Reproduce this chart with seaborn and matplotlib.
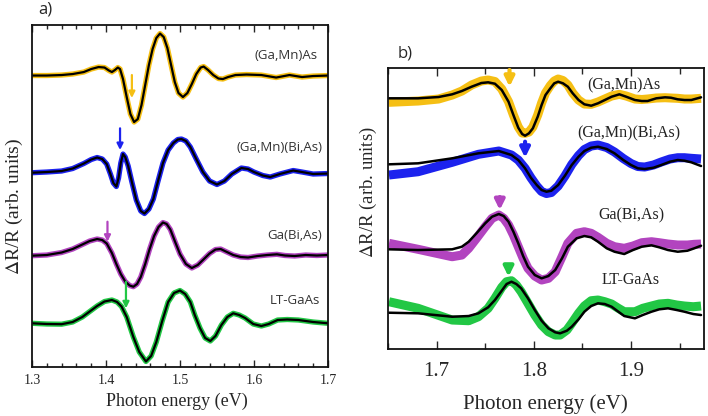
import matplotlib
matplotlib.use("Agg")
import matplotlib.pyplot as plt
import pandas as pd
import seaborn as sns
from matplotlib.ticker import MultipleLocator

# --- panel a) dados (energia em eV, sinal em unidades arbitrárias, já com offset) ---
a_gamnas_e = [1.300, 1.320, 1.340, 1.355, 1.370, 1.380, 1.390, 1.398, 1.404, 1.408, 1.412, 1.416,
              1.419, 1.423, 1.428, 1.433, 1.438, 1.443, 1.448, 1.453, 1.458, 1.463, 1.468, 1.473,
              1.478, 1.483, 1.488, 1.493, 1.498, 1.504, 1.510, 1.516, 1.522, 1.528, 1.532, 1.538,
              1.545, 1.552, 1.558, 1.565, 1.575, 1.590, 1.610, 1.630, 1.648, 1.665, 1.680, 1.700]
a_gamnas_y = [29.15, 29.15, 29.2, 29.3, 29.5, 29.8, 30.0, 29.95, 29.65, 29.5, 29.7, 29.95,
              29.8, 28.8, 27.0, 25.3, 24.5, 24.8, 26.2, 28.2, 30.2, 31.8, 32.9, 33.35,
              33.0, 31.9, 30.2, 28.5, 27.4, 27.0, 27.4, 28.3, 29.3, 29.95, 30.05, 29.7,
              29.2, 28.85, 28.8, 29.0, 29.2, 29.25, 29.2, 28.95, 29.2, 29.0, 29.1, 29.15]

a_gamnbias_e = [1.300, 1.320, 1.340, 1.355, 1.370, 1.380, 1.388, 1.395, 1.401, 1.406, 1.410, 1.414,
                1.417, 1.420, 1.423, 1.426, 1.430, 1.435, 1.441, 1.447, 1.452, 1.458, 1.464, 1.470,
                1.477, 1.484, 1.491, 1.497, 1.502, 1.508, 1.514, 1.522, 1.531, 1.540, 1.550, 1.560,
                1.570, 1.583, 1.592, 1.600, 1.612, 1.622, 1.635, 1.653, 1.665, 1.680, 1.700]
a_gamnbias_y = [19.43, 19.5, 19.6, 19.85, 20.35, 20.75, 20.95, 20.8, 20.3, 19.3, 18.4, 18.05,
                18.9, 20.4, 21.3, 21.0, 20.1, 18.5, 16.7, 15.6, 15.35, 15.8, 16.8, 18.5,
                20.4, 21.7, 22.4, 22.75, 22.8, 22.6, 22.0, 20.8, 19.5, 18.6, 18.25, 18.6,
                19.3, 19.9, 19.8, 19.5, 19.15, 19.0, 19.3, 19.65, 19.5, 19.3, 19.35]

a_gabias_e = [1.300, 1.320, 1.340, 1.355, 1.368, 1.378, 1.388, 1.395, 1.401, 1.408, 1.414, 1.420,
              1.426, 1.432, 1.437, 1.442, 1.447, 1.453, 1.459, 1.465, 1.471, 1.477, 1.482, 1.487,
              1.493, 1.500, 1.508, 1.516, 1.524, 1.531, 1.540, 1.548, 1.555, 1.562, 1.572, 1.582,
              1.592, 1.605, 1.618, 1.631, 1.642, 1.655, 1.670, 1.685, 1.700]
a_gabias_y = [11.13, 11.2, 11.45, 11.8, 12.25, 12.6, 12.8, 12.7, 12.35, 11.4, 10.3, 9.3,
              8.55, 8.15, 8.03, 8.3, 9.0, 10.3, 11.8, 13.1, 14.0, 14.45, 14.3, 13.75,
              12.6, 11.3, 10.3, 9.9, 10.2, 10.7, 11.35, 11.75, 11.8, 11.55, 11.2, 11.0,
              10.95, 11.1, 11.2, 11.27, 11.15, 11.1, 11.2, 11.15, 11.2]

a_ltgaas_e = [1.300, 1.320, 1.340, 1.355, 1.368, 1.378, 1.388, 1.398, 1.408, 1.415, 1.421, 1.428,
              1.437, 1.445, 1.454, 1.461, 1.468, 1.476, 1.484, 1.492, 1.500, 1.507, 1.514, 1.520,
              1.527, 1.534, 1.541, 1.548, 1.556, 1.564, 1.572, 1.580, 1.588, 1.599, 1.610, 1.620,
              1.632, 1.645, 1.660, 1.680, 1.700]
a_ltgaas_y = [4.37, 4.3, 4.28, 4.5, 5.0, 5.55, 6.1, 6.55, 6.7, 6.5, 6.05, 5.0,
              3.0, 1.5, 0.55, 1.1, 2.5, 4.6, 6.5, 7.4, 7.65, 7.3, 6.5, 5.2,
              3.9, 2.9, 2.6, 3.1, 4.2, 5.0, 5.37, 5.2, 4.9, 4.3, 4.1, 4.3,
              4.7, 4.75, 4.7, 4.5, 4.37]

# setas: energia, início, ponta
a_arrow_e = [1.435, 1.419, 1.402, 1.427]
a_arrow_tail = [29.2, 23.87, 14.53, 8.53]
a_arrow_tip = [26.9, 21.7, 12.53, 5.87]

# --- panel b) dados e ajuste ---
b_gamnas_e = [1.651, 1.681, 1.702, 1.716, 1.726, 1.736, 1.746, 1.753, 1.760, 1.767, 1.774, 1.779,
              1.784, 1.788, 1.791, 1.795, 1.799, 1.804, 1.808, 1.812, 1.817, 1.821, 1.825, 1.830,
              1.835, 1.840, 1.846, 1.852, 1.859, 1.866, 1.873, 1.880, 1.888, 1.895, 1.904, 1.911,
              1.917, 1.926, 1.935, 1.941, 1.948, 1.955, 1.962, 1.972]
b_gamnas_fit = [25.07, 25.07, 25.2, 25.47, 25.8, 26.23, 26.6, 26.67, 26.53, 25.9, 24.73, 23.4,
                22.13, 21.5, 21.33, 21.57, 22.07, 23.23, 24.4, 25.4, 26.07, 26.57, 26.73, 26.57,
                26.23, 25.57, 24.9, 24.47, 24.33, 24.57, 24.9, 25.23, 25.47, 25.23, 24.9, 24.8,
                24.8, 25.07, 25.17, 25.13, 24.97, 24.9, 24.9, 25.17]
b_gamnas_data = [24.67, 24.8, 25.0, 25.4, 25.8, 26.4, 26.8, 26.9, 26.75, 26.0, 24.73, 23.4,
                 22.2, 21.6, 21.57, 21.7, 22.2, 23.4, 24.6, 25.6, 26.35, 26.8, 27.0, 26.85,
                 26.4, 25.6, 24.9, 24.5, 24.47, 24.7, 25.0, 25.3, 25.47, 25.3, 25.0, 24.95,
                 25.0, 25.1, 25.13, 25.1, 25.07, 25.0, 25.0, 25.07]

b_gamnbias_e = [1.651, 1.681, 1.716, 1.743, 1.764, 1.777, 1.784, 1.791, 1.797, 1.803, 1.808, 1.813,
                1.818, 1.825, 1.832, 1.839, 1.846, 1.852, 1.859, 1.866, 1.875, 1.883, 1.892, 1.900,
                1.907, 1.914, 1.923, 1.931, 1.940, 1.948, 1.955, 1.962, 1.972]
b_gamnbias_fit = [18.47, 18.57, 19.07, 19.57, 19.8, 19.4, 18.9, 18.07, 17.13, 16.4, 15.9, 15.73,
                  15.83, 16.4, 17.33, 18.4, 19.23, 19.8, 20.13, 20.23, 20.0, 19.57, 18.9, 18.4,
                  18.07, 18.0, 18.13, 18.4, 18.73, 18.9, 18.83, 18.67, 18.3]
b_gamnbias_data = [17.4, 17.73, 18.67, 19.47, 19.8, 19.4, 18.9, 18.07, 17.13, 16.3, 15.75, 15.55,
                   15.65, 16.3, 17.3, 18.45, 19.35, 19.95, 20.3, 20.4, 20.15, 19.7, 19.05, 18.55,
                   18.25, 18.2, 18.4, 18.7, 19.0, 19.13, 19.13, 19.07, 19.0]

b_gabias_e = [1.651, 1.681, 1.716, 1.726, 1.733, 1.741, 1.750, 1.757, 1.764, 1.769, 1.774, 1.779,
              1.784, 1.789, 1.794, 1.801, 1.808, 1.815, 1.822, 1.829, 1.835, 1.844, 1.852, 1.859,
              1.866, 1.875, 1.883, 1.893, 1.902, 1.911, 1.921, 1.929, 1.938, 1.948, 1.958, 1.965,
              1.972]
b_gabias_fit = [9.97, 9.9, 9.97, 10.23, 10.73, 11.57, 12.57, 13.23, 13.5, 13.3, 12.73, 11.73,
                10.57, 9.3, 8.23, 7.4, 7.07, 7.3, 7.9, 9.07, 10.23, 11.07, 11.3, 11.17,
                10.73, 10.07, 9.73, 9.5, 9.9, 10.23, 10.37, 10.17, 9.9, 9.73, 9.83, 10.07,
                10.33]
b_gabias_data = [10.57, 9.97, 9.23, 9.4, 10.07, 11.07, 12.23, 13.07, 13.4, 13.07, 12.4, 11.4,
                 10.23, 9.07, 8.07, 7.3, 6.9, 7.07, 7.73, 9.23, 10.57, 11.57, 11.73, 11.57,
                 11.17, 10.57, 10.23, 10.07, 10.3, 10.63, 10.73, 10.63, 10.5, 10.4, 10.4, 10.47,
                 10.5]

b_ltgaas_e = [1.651, 1.681, 1.716, 1.733, 1.743, 1.753, 1.760, 1.767, 1.772, 1.777, 1.782, 1.787,
              1.794, 1.801, 1.808, 1.815, 1.822, 1.827, 1.834, 1.839, 1.846, 1.852, 1.859, 1.866,
              1.873, 1.880, 1.887, 1.893, 1.904, 1.912, 1.921, 1.929, 1.938, 1.947, 1.955, 1.964,
              1.972]
b_ltgaas_fit = [3.63, 3.57, 3.23, 3.3, 3.57, 4.17, 4.9, 5.83, 6.5, 6.73, 6.5, 6.07,
                5.07, 3.9, 2.83, 2.07, 1.67, 1.57, 1.83, 2.23, 2.97, 3.73, 4.3, 4.57,
                4.5, 4.23, 3.73, 3.3, 3.07, 3.4, 3.73, 3.97, 4.07, 3.9, 3.73, 3.5,
                3.4]
b_ltgaas_data = [4.73, 4.07, 2.9, 2.83, 3.23, 4.07, 5.07, 6.17, 6.73, 6.83, 6.4, 5.73,
                 4.57, 3.4, 2.4, 1.73, 1.4, 1.4, 1.9, 2.57, 3.57, 4.3, 4.83, 4.9,
                 4.73, 4.5, 4.07, 3.73, 3.73, 4.07, 4.3, 4.5, 4.57, 4.4, 4.3, 4.23,
                 4.3]

b_arrow_e = [1.775, 1.791, 1.765, 1.774]
b_arrow_tail = [27.9, 20.73, 15.2, 8.4]
b_arrow_tip = [26.23, 19.13, 13.9, 7.23]

amostras = ["(Ga,Mn)As", "(Ga,Mn)(Bi,As)", "Ga(Bi,As)", "LT-GaAs"]
cores = ["#f5bf14", "#1c22ee", "#b244bf", "#22c745"]

# posições dos rótulos
a_label_e = [1.6865, 1.692, 1.692, 1.690]
a_label_y = [31.2, 22.0, 13.2, 6.7]
b_label_e = [1.893, 1.898, 1.900, 1.900]
b_label_y = [26.4, 21.6, 13.4, 6.9]

sns.set_style("ticks")
plt.rcParams["font.family"] = ["Liberation Serif", "DejaVu Serif"]
plt.rcParams["mathtext.fontset"] = "stix"

fig = plt.figure(figsize=(7.08, 4.16), dpi=100)
ax_a = fig.add_axes([0.0452, 0.1178, 0.418, 0.822])
ax_b = fig.add_axes([0.548, 0.161, 0.4463, 0.6755])

# painel a: dados e ajuste quase coincidentes
curvas_a = [(a_gamnas_e, a_gamnas_y), (a_gamnbias_e, a_gamnbias_y),
            (a_gabias_e, a_gabias_y), (a_ltgaas_e, a_ltgaas_y)]
for (e, y), cor in zip(curvas_a, cores):
    df = pd.DataFrame({"E": e, "y": y})
    sns.lineplot(data=df, x="E", y="y", ax=ax_a, color=cor, lw=3.8, sort=False,
                 estimator=None, solid_capstyle="butt", solid_joinstyle="round")
    sns.lineplot(data=df, x="E", y="y", ax=ax_a, color="black", lw=1.6, sort=False,
                 estimator=None, solid_joinstyle="round")

for e, t0, t1, cor in zip(a_arrow_e, a_arrow_tail, a_arrow_tip, cores):
    ax_a.annotate("", xy=(e, t1), xytext=(e, t0),
                  arrowprops=dict(arrowstyle="-|>", color=cor, lw=1.6, mutation_scale=9,
                                  shrinkA=0, shrinkB=0))

for nome, e, y in zip(amostras, a_label_e, a_label_y):
    ax_a.text(e, y, nome, ha="right", va="center", fontsize=9.5, color="#333333",
              family=["Open Sans", "DejaVu Sans"])

# painel b: dados ruidosos (faixa grossa) + ajuste
curvas_b = [(b_gamnas_e, b_gamnas_data, b_gamnas_fit),
            (b_gamnbias_e, b_gamnbias_data, b_gamnbias_fit),
            (b_gabias_e, b_gabias_data, b_gabias_fit),
            (b_ltgaas_e, b_ltgaas_data, b_ltgaas_fit)]
for (e, yd, yf), cor in zip(curvas_b, cores):
    df = pd.DataFrame({"E": e, "dados": yd, "ajuste": yf})
    sns.lineplot(data=df, x="E", y="dados", ax=ax_b, color=cor, lw=6.5, sort=False,
                 estimator=None, solid_capstyle="butt", solid_joinstyle="round")
    sns.lineplot(data=df, x="E", y="ajuste", ax=ax_b, color="black", lw=1.8, sort=False,
                 estimator=None, solid_joinstyle="round")

for e, t0, t1, cor in zip(b_arrow_e, b_arrow_tail, b_arrow_tip, cores):
    ax_b.annotate("", xy=(e, t1), xytext=(e, t0),
                  arrowprops=dict(arrowstyle="-|>", color=cor, lw=3, mutation_scale=14,
                                  shrinkA=0, shrinkB=0))

for nome, e, y in zip(amostras, b_label_e, b_label_y):
    ax_b.text(e, y, nome, ha="center", va="center", fontsize=11.5, color="#222222")

# eixos
ax_a.set_xlim(1.3, 1.7)
ax_a.set_ylim(0, 34.2)
ax_a.xaxis.set_major_locator(MultipleLocator(0.1))
ax_a.xaxis.set_minor_locator(MultipleLocator(0.02))
ax_a.set_yticks([])
ax_a.tick_params(axis="x", which="both", direction="in", top=True, labelsize=10, pad=5)
ax_a.tick_params(axis="x", which="major", length=5, width=1)
ax_a.tick_params(axis="x", which="minor", length=3, width=1)
ax_a.set_xlabel("Photon energy (eV)", fontsize=13)
ax_a.set_ylabel(r"$\Delta$R/R (arb. units)", fontsize=14)
ax_a.xaxis.set_label_coords(0.49, -0.075)
ax_a.yaxis.set_label_coords(-0.022, 0.47)

ax_b.set_xlim(1.65, 1.975)
ax_b.set_ylim(0, 28.1)
ax_b.xaxis.set_major_locator(MultipleLocator(0.1))
ax_b.xaxis.set_minor_locator(MultipleLocator(0.05))
ax_b.set_yticks([])
ax_b.tick_params(axis="x", which="both", direction="in", top=True, labelsize=15, pad=9)
ax_b.tick_params(axis="x", which="major", length=6, width=1)
ax_b.tick_params(axis="x", which="minor", length=4, width=1)
ax_b.set_xlabel("Photon energy (eV)", fontsize=15)
ax_b.set_ylabel(r"$\Delta$R/R (arb. units)", fontsize=13.5)
ax_b.xaxis.set_label_coords(0.497, -0.16)
ax_b.yaxis.set_label_coords(-0.028, 0.56)

for ax in (ax_a, ax_b):
    for sp in ax.spines.values():
        sp.set_linewidth(1.3)
        sp.set_color("#111111")

fig.text(38 / 708, 1 - 10 / 416, "a)", fontsize=12, va="center", ha="left",
         family=["Open Sans", "DejaVu Sans"])
fig.text(398 / 708, 1 - 54 / 416, "b)", fontsize=12, va="center", ha="left",
         family=["Open Sans", "DejaVu Sans"])

fig.savefig("out.png", dpi=100)
